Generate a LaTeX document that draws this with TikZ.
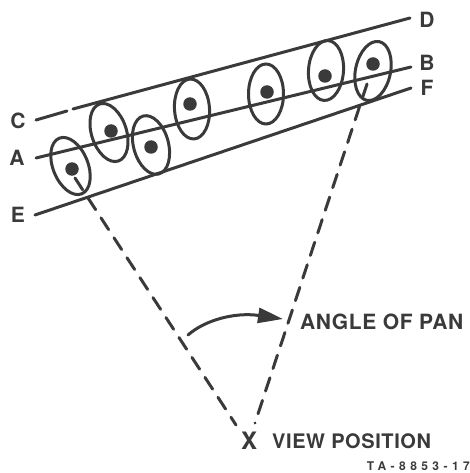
\documentclass[tikz,border=0pt]{standalone}
\usepackage{fontspec}
\setmainfont{TeX Gyre Heros}
\newfontfamily\lblfont[LetterSpace=3]{TeX Gyre Heros}
\newfontfamily\tagfont[LetterSpace=37]{TeX Gyre Heros}
\usetikzlibrary{arrows.meta,shapes.geometric}
\definecolor{ink}{HTML}{3A3A3A}
\tikzset{
 x=1pt,y=-1pt,
 ln/.style={draw=ink,line width=3pt,line cap=round},
 dsh/.style={draw=ink,line width=3pt,line cap=round,dash pattern=on 14pt off 9.8pt},
 eye/.style={ellipse,draw=ink,line width=3pt,minimum width=35pt,minimum height=60pt,inner sep=0pt},
 dotn/.style={circle,fill=ink,minimum size=13.5pt,inner sep=0pt},
 lbl/.style={text=ink,inner sep=0pt,font=\lblfont\bfseries\fontsize{21}{21}\selectfont},
 lbls/.style={text=ink,inner sep=0pt,font=\lblfont\bfseries\fontsize{20}{20}\selectfont},
 lblx/.style={text=ink,inner sep=0pt,font=\lblfont\bfseries\fontsize{24}{24}\selectfont},
 tinytext/.style={text=ink,inner sep=0pt,font=\tagfont\bfseries\fontsize{12}{12}\selectfont},
}
\begin{document}
\begin{tikzpicture}
\useasboundingbox (0,0) rectangle (470,473);
% line ends
\coordinate (c0) at (36,120); \coordinate (c1) at (67,111); \coordinate (c2) at (73,109);
\coordinate (d0) at (410,18);
\coordinate (a0) at (36,158); \coordinate (b0) at (411,67);
\coordinate (e0) at (35,215); \coordinate (f0) at (411,88);
\draw[ln] (c0) -- (c1);
\draw[ln] (c2) -- (d0);
\draw[ln] (a0) -- (b0);
\draw[ln] (e0) -- (f0);
% ellipses
\node[eye,rotate=22] (p1) at (70.5,166) {};
\node[eye,rotate=18] (p2) at (109,132.5) {};
\node[eye,rotate=15] (p3) at (151,145) {};
\node[eye,rotate=4] (p4) at (192,109) {};
\node[eye] (p5) at (266,94) {};
\node[eye,rotate=-4] (p6) at (326,70.5) {};
\node[eye,rotate=-12] (p7) at (373,71) {};
% dots
\node[dotn] (q1) at (72,169) {};
\node[dotn] (q2) at (111,131) {};
\node[dotn] (q3) at (151,147) {};
\node[dotn] (q4) at (190,104) {};
\node[dotn] (q5) at (267,92) {};
\node[dotn] (q6) at (325,76) {};
\node[dotn] (q7) at (373,64) {};
% labels
\node[lbl] (lc) at (18,121) {C};
\node[lbl] (la) at (17,158) {A};
\node[lbl] (le) at (18,215) {E};
\node[lbl] (ld) at (427,20) {D};
\node[lbl] (lb) at (427,63) {B};
\node[lbl] (lf) at (427,88) {F};
\node[lbl,anchor=west] (pan) at (300,322) {ANGLE OF PAN};
\node[lblx] (view) at (249,441) {X};
\node[lbls,anchor=west] (vp) at (272,441) {VIEW POSITION};
\node[tinytext,anchor=east] (tag) at (470,466) {TA-8853-17};
% sight lines
\coordinate (s1) at (75,178); \coordinate (s2) at (367,84);
\coordinate (v1) at (236,425); \coordinate (v2) at (255,423);
\draw[dsh] (s1) -- (v1);
\draw[dsh] (s2) -- (v2);
% arrow
\coordinate (a1) at (188,335); \coordinate (a2) at (283,319);
\draw[draw=ink,line width=3pt,line cap=round,-{Triangle[length=25pt,width=15pt]}] (a1) .. controls (205,320) and (235,312) .. (a2);
\end{tikzpicture}
\end{document}
